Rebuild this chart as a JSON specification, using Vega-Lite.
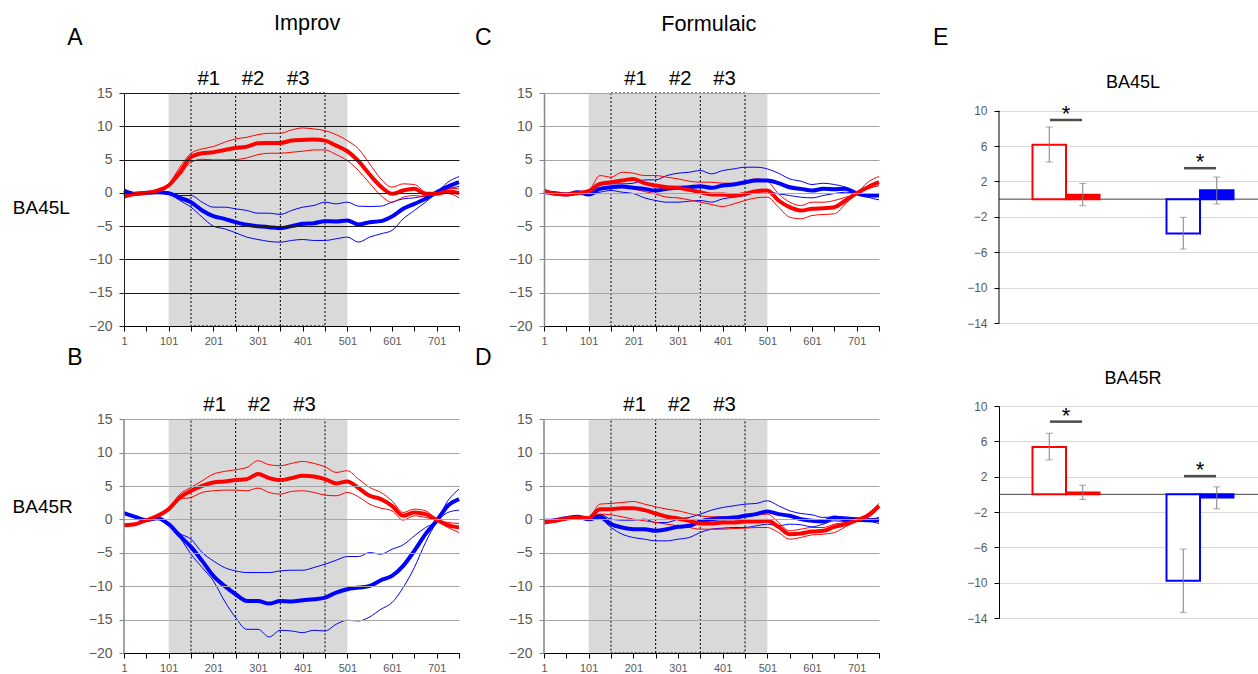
{
"$schema": "https://vega.github.io/schema/vega-lite/v6.json",
"padding": {"left": 12, "top": 13, "right": -8, "bottom": 0},
"background": "white",
"config": {"view": {"stroke": null}, "font": "Liberation Sans", "axis": {"labelFont": "Liberation Sans"}},
"datasets": {
"phase": [{"start": 101, "end": 501, "first": 151, "last": 451}],
"cuts": [{"t": 251}, {"t": 351}],
"labels": [
{"panel": "A", "kind": "letter", "label": "A", "x": -109, "y": 23.3},
{"panel": "A", "kind": "title", "label": "Improv", "x": 411, "y": 25.5},
{"panel": "A", "kind": "phase", "label": "#1", "x": 191, "y": 17.1},
{"panel": "A", "kind": "phase", "label": "#2", "x": 290, "y": 17.1},
{"panel": "A", "kind": "phase", "label": "#3", "x": 391, "y": 17.1},
{"panel": "A", "kind": "row", "label": "BA45L", "x": -184, "y": -2.2},
{"panel": "C", "kind": "letter", "label": "C", "x": -135, "y": 23.3},
{"panel": "C", "kind": "title", "label": "Formulaic", "x": 370, "y": 25.3},
{"panel": "C", "kind": "letter", "label": "E", "x": 889, "y": 23.3},
{"panel": "C", "kind": "phase", "label": "#1", "x": 206, "y": 17.1},
{"panel": "C", "kind": "phase", "label": "#2", "x": 306, "y": 17.1},
{"panel": "C", "kind": "phase", "label": "#3", "x": 405, "y": 17.1},
{"panel": "B", "kind": "letter", "label": "B", "x": -109, "y": 24.2},
{"panel": "B", "kind": "phase", "label": "#1", "x": 204, "y": 17.2},
{"panel": "B", "kind": "phase", "label": "#2", "x": 304, "y": 17.2},
{"panel": "B", "kind": "phase", "label": "#3", "x": 405, "y": 17.2},
{"panel": "B", "kind": "row", "label": "BA45R", "x": -181, "y": 1.8},
{"panel": "D", "kind": "letter", "label": "D", "x": -135, "y": 24.2},
{"panel": "D", "kind": "phase", "label": "#1", "x": 204, "y": 17.2},
{"panel": "D", "kind": "phase", "label": "#2", "x": 304, "y": 17.2},
{"panel": "D", "kind": "phase", "label": "#3", "x": 405, "y": 17.2}
],
"ebars": [
{"region": "BA45L", "group": "red", "cond": "Improv", "value": 6.15, "lo": 4.2, "hi": 8.15},
{"region": "BA45L", "group": "red", "cond": "Formulaic", "value": 0.5, "lo": -0.74, "hi": 1.78},
{"region": "BA45L", "group": "blue", "cond": "Improv", "value": -3.87, "lo": -5.64, "hi": -2.06},
{"region": "BA45L", "group": "blue", "cond": "Formulaic", "value": 1.0, "lo": -0.55, "hi": 2.5},
{"region": "BA45R", "group": "red", "cond": "Improv", "value": 5.37, "lo": 3.9, "hi": 6.92},
{"region": "BA45R", "group": "red", "cond": "Formulaic", "value": 0.2, "lo": -0.58, "hi": 1.04},
{"region": "BA45R", "group": "blue", "cond": "Improv", "value": -9.78, "lo": -13.36, "hi": -6.2},
{"region": "BA45R", "group": "blue", "cond": "Formulaic", "value": -0.36, "lo": -1.64, "hi": 0.85}
],
"esig": [
{"region": "BA45L", "group": "red", "sig": 8.95},
{"region": "BA45L", "group": "blue", "sig": 3.5},
{"region": "BA45R", "group": "red", "sig": 8.23},
{"region": "BA45R", "group": "blue", "sig": 2.06}
],
"lines": [
{"panel":"A","x":1,"rm":-0.55,"ru":-0.4,"rl":-0.7,"bm":0.35,"bu":0.45,"bl":0.25},
{"panel":"A","x":26,"rm":-0.15,"ru":0,"rl":-0.3,"bm":-0.15,"bu":-0.05,"bl":-0.25},
{"panel":"A","x":51,"rm":0,"ru":0.1,"rl":-0.1,"bm":0,"bu":0.1,"bl":-0.1},
{"panel":"A","x":76,"rm":0.35,"ru":0.5,"rl":0.2,"bm":0.1,"bu":0.2,"bl":0},
{"panel":"A","x":101,"rm":1.1,"ru":1.35,"rl":0.95,"bm":-0.05,"bu":0.1,"bl":-0.15},
{"panel":"A","x":126,"rm":3.1,"ru":3.85,"rl":2.6,"bm":-0.75,"bu":-0.4,"bl":-1.15},
{"panel":"A","x":151,"rm":5.35,"ru":5.95,"rl":4.6,"bm":-1.4,"bu":-0.4,"bl":-2.15},
{"panel":"A","x":176,"rm":5.95,"ru":6.6,"rl":5.05,"bm":-2.65,"bu":-1.4,"bl":-3.65},
{"panel":"A","x":201,"rm":6.1,"ru":6.95,"rl":4.95,"bm":-3.5,"bu":-2.15,"bl":-5.0},
{"panel":"A","x":226,"rm":6.45,"ru":7.6,"rl":4.95,"bm":-3.9,"bu":-2.15,"bl":-5.4},
{"panel":"A","x":251,"rm":6.75,"ru":8.1,"rl":5.0,"bm":-4.4,"bu":-2.4,"bl":-6.0},
{"panel":"A","x":276,"rm":6.95,"ru":8.35,"rl":5.25,"bm":-4.8,"bu":-2.65,"bl":-6.65},
{"panel":"A","x":301,"rm":7.45,"ru":8.75,"rl":5.75,"bm":-5.0,"bu":-3.05,"bl":-7.0},
{"panel":"A","x":326,"rm":7.5,"ru":8.95,"rl":5.95,"bm":-5.15,"bu":-3.05,"bl":-7.3},
{"panel":"A","x":351,"rm":7.5,"ru":8.95,"rl":5.95,"bm":-5.3,"bu":-3.25,"bl":-7.4},
{"panel":"A","x":376,"rm":7.85,"ru":9.45,"rl":6.1,"bm":-5.0,"bu":-2.65,"bl":-7.15},
{"panel":"A","x":401,"rm":7.95,"ru":9.75,"rl":6.25,"bm":-4.65,"bu":-2.15,"bl":-7.0},
{"panel":"A","x":426,"rm":8.0,"ru":9.6,"rl":6.45,"bm":-4.55,"bu":-1.9,"bl":-7.15},
{"panel":"A","x":451,"rm":7.85,"ru":9.35,"rl":6.45,"bm":-4.25,"bu":-1.4,"bl":-7.15},
{"panel":"A","x":476,"rm":7.1,"ru":8.75,"rl":5.75,"bm":-4.3,"bu":-1.65,"bl":-6.9},
{"panel":"A","x":501,"rm":6.25,"ru":7.85,"rl":4.85,"bm":-4.15,"bu":-1.4,"bl":-6.65},
{"panel":"A","x":526,"rm":4.75,"ru":6.6,"rl":3.35,"bm":-4.75,"bu":-2.0,"bl":-7.4},
{"panel":"A","x":551,"rm":2.75,"ru":4.35,"rl":1.45,"bm":-4.4,"bu":-2.05,"bl":-6.65},
{"panel":"A","x":576,"rm":0.95,"ru":2.1,"rl":-0.4,"bm":-4.25,"bu":-2.0,"bl":-6.15},
{"panel":"A","x":601,"rm":-0.15,"ru":0.85,"rl":-1.4,"bm":-3.55,"bu":-1.4,"bl":-5.65},
{"panel":"A","x":626,"rm":0.35,"ru":1.35,"rl":-0.65,"bm":-2.4,"bu":-0.9,"bl":-3.9},
{"panel":"A","x":651,"rm":0.6,"ru":1.25,"rl":-0.4,"bm":-1.65,"bu":-0.75,"bl":-2.65},
{"panel":"A","x":676,"rm":-0.15,"ru":0.1,"rl":-0.55,"bm":-0.9,"bu":-0.4,"bl":-1.4},
{"panel":"A","x":701,"rm":-0.15,"ru":-0.15,"rl":-0.15,"bm":0.1,"bu":0.1,"bl":-0.05},
{"panel":"A","x":726,"rm":0.25,"ru":0.7,"rl":-0.1,"bm":0.95,"bu":1.6,"bl":0.6},
{"panel":"A","x":751,"rm":-0.05,"ru":0.6,"rl":-0.75,"bm":1.6,"bu":2.45,"bl":0.95},
{"panel":"C","x":1,"rm":0.35,"ru":0.5,"rl":0.2,"bm":0.1,"bu":0.2,"bl":0},
{"panel":"C","x":26,"rm":-0.15,"ru":0,"rl":-0.3,"bm":-0.05,"bu":0.05,"bl":-0.15},
{"panel":"C","x":51,"rm":-0.25,"ru":-0.1,"rl":-0.4,"bm":-0.25,"bu":-0.15,"bl":-0.35},
{"panel":"C","x":76,"rm":-0.05,"ru":0.1,"rl":-0.2,"bm":0.1,"bu":0.2,"bl":0},
{"panel":"C","x":101,"rm":0.25,"ru":0.35,"rl":0.15,"bm":-0.25,"bu":-0.1,"bl":-0.4},
{"panel":"C","x":126,"rm":1.35,"ru":2.6,"rl":0.6,"bm":0.6,"bu":1.1,"bl":0.1},
{"panel":"C","x":151,"rm":1.6,"ru":2.35,"rl":0.85,"bm":0.85,"bu":1.35,"bl":0.35},
{"panel":"C","x":176,"rm":1.85,"ru":3.1,"rl":0.95,"bm":0.95,"bu":1.35,"bl":0.1},
{"panel":"C","x":201,"rm":2.1,"ru":2.95,"rl":0.6,"bm":0.75,"bu":1.45,"bl":-0.1},
{"panel":"C","x":226,"rm":1.45,"ru":2.6,"rl":0.2,"bm":0.6,"bu":1.95,"bl":-0.75},
{"panel":"C","x":251,"rm":1.1,"ru":2.6,"rl":-0.15,"bm":0.35,"bu":1.95,"bl":-1.15},
{"panel":"C","x":276,"rm":0.85,"ru":2.35,"rl":-0.65,"bm":0.6,"bu":2.6,"bl":-1.4},
{"panel":"C","x":301,"rm":0.75,"ru":2.1,"rl":-0.75,"bm":0.75,"bu":2.95,"bl":-1.4},
{"panel":"C","x":326,"rm":0.45,"ru":1.75,"rl":-1.05,"bm":0.85,"bu":3.1,"bl":-1.25},
{"panel":"C","x":351,"rm":0.1,"ru":1.6,"rl":-1.4,"bm":1.0,"bu":3.35,"bl":-1.15},
{"panel":"C","x":376,"rm":-0.25,"ru":1.6,"rl":-1.75,"bm":0.75,"bu":2.85,"bl":-1.4},
{"panel":"C","x":401,"rm":-0.25,"ru":1.45,"rl":-2.05,"bm":1.1,"bu":3.35,"bl":-0.9},
{"panel":"C","x":426,"rm":-0.4,"ru":1.45,"rl":-1.65,"bm":1.25,"bu":3.6,"bl":-0.65},
{"panel":"C","x":451,"rm":-0.15,"ru":1.75,"rl":-1.15,"bm":1.6,"bu":3.85,"bl":-0.4},
{"panel":"C","x":476,"rm":0.25,"ru":2.1,"rl":-0.75,"bm":1.85,"bu":3.85,"bl":0.1},
{"panel":"C","x":501,"rm":0.35,"ru":1.75,"rl":-0.65,"bm":1.85,"bu":3.6,"bl":0.2},
{"panel":"C","x":526,"rm":-1.15,"ru":-0.15,"rl":-2.15,"bm":1.45,"bu":2.95,"bl":-0.15},
{"panel":"C","x":551,"rm":-2.15,"ru":-1.4,"rl":-3.65,"bm":0.85,"bu":2.1,"bl":-0.4},
{"panel":"C","x":576,"rm":-2.65,"ru":-1.9,"rl":-3.9,"bm":0.6,"bu":1.75,"bl":-0.65},
{"panel":"C","x":601,"rm":-2.4,"ru":-1.4,"rl":-3.4,"bm":0.35,"bu":1.25,"bl":-0.75},
{"panel":"C","x":626,"rm":-2.3,"ru":-1.4,"rl":-3.25,"bm":0.6,"bu":1.45,"bl":-0.4},
{"panel":"C","x":651,"rm":-2.15,"ru":-1.15,"rl":-3.15,"bm":0.55,"bu":1.25,"bl":-0.1},
{"panel":"C","x":676,"rm":-1.15,"ru":-0.65,"rl":-1.65,"bm":0.6,"bu":0.85,"bl":0.1},
{"panel":"C","x":701,"rm":-0.05,"ru":-0.05,"rl":-0.05,"bm":-0.05,"bu":-0.05,"bl":-0.05},
{"panel":"C","x":726,"rm":0.85,"ru":1.6,"rl":0.6,"bm":-0.4,"bu":-0.4,"bl":-0.65},
{"panel":"C","x":751,"rm":1.6,"ru":2.45,"rl":1.1,"bm":-0.4,"bu":-0.15,"bl":-1.05},
{"panel":"B","x":1,"rm":-0.85,"ru":-0.75,"rl":-0.95,"bm":0.95,"bu":1.05,"bl":0.85},
{"panel":"B","x":26,"rm":-0.7,"ru":-0.6,"rl":-0.8,"bm":0.4,"bu":0.5,"bl":0.3},
{"panel":"B","x":51,"rm":-0.1,"ru":0,"rl":-0.2,"bm":-0.1,"bu":0,"bl":-0.2},
{"panel":"B","x":76,"rm":0.55,"ru":0.65,"rl":0.45,"bm":0.2,"bu":0.3,"bl":0.1},
{"panel":"B","x":101,"rm":1.55,"ru":1.7,"rl":1.4,"bm":-0.7,"bu":-0.6,"bl":-0.8},
{"panel":"B","x":126,"rm":3.3,"ru":3.8,"rl":3.05,"bm":-2.45,"bu":-2.1,"bl":-2.7},
{"panel":"B","x":151,"rm":4.3,"ru":4.8,"rl":3.3,"bm":-4.1,"bu":-2.95,"bl":-5.2},
{"panel":"B","x":176,"rm":5.05,"ru":5.8,"rl":4.05,"bm":-6.2,"bu":-4.95,"bl":-7.2},
{"panel":"B","x":201,"rm":5.55,"ru":6.8,"rl":4.3,"bm":-8.45,"bu":-6.2,"bl":-9.2},
{"panel":"B","x":226,"rm":5.7,"ru":7.2,"rl":4.4,"bm":-9.95,"bu":-7.2,"bl":-12.2},
{"panel":"B","x":251,"rm":5.9,"ru":7.45,"rl":4.4,"bm":-11.2,"bu":-7.7,"bl":-14.7},
{"panel":"B","x":276,"rm":6.05,"ru":7.8,"rl":4.3,"bm":-12.2,"bu":-7.95,"bl":-16.45},
{"panel":"B","x":301,"rm":6.8,"ru":8.8,"rl":4.7,"bm":-12.2,"bu":-7.95,"bl":-16.45},
{"panel":"B","x":326,"rm":6.2,"ru":8.2,"rl":4.05,"bm":-12.6,"bu":-7.95,"bl":-17.6},
{"panel":"B","x":351,"rm":5.9,"ru":8.05,"rl":3.8,"bm":-12.2,"bu":-7.7,"bl":-16.6},
{"panel":"B","x":376,"rm":6.2,"ru":8.4,"rl":4.2,"bm":-12.3,"bu":-7.6,"bl":-16.7},
{"panel":"B","x":401,"rm":6.55,"ru":8.7,"rl":4.3,"bm":-12.1,"bu":-7.6,"bl":-16.95},
{"panel":"B","x":426,"rm":6.45,"ru":8.4,"rl":4.05,"bm":-11.95,"bu":-7.2,"bl":-16.6},
{"panel":"B","x":451,"rm":6.05,"ru":7.9,"rl":3.65,"bm":-11.7,"bu":-6.7,"bl":-16.7},
{"panel":"B","x":476,"rm":5.4,"ru":7.05,"rl":3.55,"bm":-10.95,"bu":-6.1,"bl":-15.7},
{"panel":"B","x":501,"rm":5.7,"ru":7.3,"rl":4.05,"bm":-10.45,"bu":-5.55,"bl":-15.1},
{"panel":"B","x":526,"rm":4.7,"ru":6.05,"rl":3.4,"bm":-10.2,"bu":-5.55,"bl":-15.2},
{"panel":"B","x":551,"rm":3.55,"ru":4.8,"rl":2.3,"bm":-9.95,"bu":-4.95,"bl":-14.6},
{"panel":"B","x":576,"rm":3.05,"ru":4.05,"rl":1.7,"bm":-9.1,"bu":-5.2,"bl":-13.45},
{"panel":"B","x":601,"rm":2.05,"ru":2.8,"rl":1.3,"bm":-8.45,"bu":-4.45,"bl":-12.45},
{"panel":"B","x":626,"rm":0.55,"ru":1.05,"rl":-0.1,"bm":-6.95,"bu":-3.8,"bl":-10.2},
{"panel":"B","x":651,"rm":1.05,"ru":1.55,"rl":0.55,"bm":-4.7,"bu":-2.45,"bl":-7.2},
{"panel":"B","x":676,"rm":0.8,"ru":1.3,"rl":0.3,"bm":-2.2,"bu":-1.2,"bl":-3.45},
{"panel":"B","x":701,"rm":-0.05,"ru":0.05,"rl":-0.2,"bm":-0.2,"bu":-0.2,"bl":-0.45},
{"panel":"B","x":726,"rm":-0.85,"ru":-0.45,"rl":-1.2,"bm":2.05,"bu":2.8,"bl":1.05},
{"panel":"B","x":751,"rm":-1.2,"ru":-0.6,"rl":-1.95,"bm":3.05,"bu":4.55,"bl":1.4},
{"panel":"D","x":1,"rm":-0.45,"ru":-0.35,"rl":-0.55,"bm":-0.2,"bu":-0.1,"bl":-0.3},
{"panel":"D","x":26,"rm":-0.2,"ru":-0.1,"rl":-0.3,"bm":-0.1,"bu":0,"bl":-0.2},
{"panel":"D","x":51,"rm":0.15,"ru":0.25,"rl":0.05,"bm":0.2,"bu":0.3,"bl":0.1},
{"panel":"D","x":76,"rm":0.3,"ru":0.4,"rl":0.2,"bm":0.4,"bu":0.5,"bl":0.3},
{"panel":"D","x":101,"rm":0.2,"ru":0.3,"rl":0.1,"bm":0.05,"bu":0.15,"bl":-0.05},
{"panel":"D","x":126,"rm":1.55,"ru":2.3,"rl":0.8,"bm":0.4,"bu":0.8,"bl":0.05},
{"panel":"D","x":151,"rm":1.55,"ru":2.4,"rl":0.7,"bm":-0.7,"bu":0.05,"bl":-1.2},
{"panel":"D","x":176,"rm":1.7,"ru":2.55,"rl":0.4,"bm":-1.2,"bu":-0.1,"bl":-2.2},
{"panel":"D","x":201,"rm":1.7,"ru":2.7,"rl":0.05,"bm":-1.45,"bu":-0.1,"bl":-2.7},
{"panel":"D","x":226,"rm":1.4,"ru":2.3,"rl":-0.2,"bm":-1.45,"bu":0.05,"bl":-2.95},
{"panel":"D","x":251,"rm":0.9,"ru":1.9,"rl":-0.45,"bm":-1.7,"bu":-0.45,"bl":-3.2},
{"panel":"D","x":276,"rm":0.4,"ru":1.55,"rl":-0.7,"bm":-1.45,"bu":-0.45,"bl":-3.2},
{"panel":"D","x":301,"rm":0.15,"ru":1.3,"rl":-0.95,"bm":-1.1,"bu":0.05,"bl":-2.95},
{"panel":"D","x":326,"rm":-0.2,"ru":0.9,"rl":-1.2,"bm":-0.95,"bu":0.3,"bl":-2.7},
{"panel":"D","x":351,"rm":-0.6,"ru":0.55,"rl":-1.45,"bm":-0.3,"bu":0.8,"bl":-1.95},
{"panel":"D","x":376,"rm":-0.6,"ru":0.4,"rl":-1.45,"bm":0.05,"bu":1.4,"bl":-1.45},
{"panel":"D","x":401,"rm":-0.45,"ru":0.4,"rl":-1.45,"bm":0.2,"bu":1.8,"bl":-1.3},
{"panel":"D","x":426,"rm":-0.45,"ru":0.4,"rl":-1.35,"bm":0.3,"bu":2.05,"bl":-1.2},
{"panel":"D","x":451,"rm":-0.3,"ru":0.55,"rl":-1.3,"bm":0.55,"bu":2.3,"bl":-1.2},
{"panel":"D","x":476,"rm":-0.3,"ru":0.7,"rl":-1.2,"bm":0.8,"bu":2.4,"bl":-0.95},
{"panel":"D","x":501,"rm":-0.2,"ru":0.8,"rl":-1.2,"bm":1.2,"bu":2.8,"bl":-0.7},
{"panel":"D","x":526,"rm":-1.1,"ru":-0.45,"rl":-1.95,"bm":0.8,"bu":2.05,"bl":-0.95},
{"panel":"D","x":551,"rm":-2.2,"ru":-1.7,"rl":-2.95,"bm":0.55,"bu":1.3,"bl":-0.7},
{"panel":"D","x":576,"rm":-2.1,"ru":-1.45,"rl":-2.7,"bm":0.05,"bu":0.9,"bl":-0.8},
{"panel":"D","x":601,"rm":-1.8,"ru":-1.2,"rl":-2.3,"bm":-0.2,"bu":0.7,"bl":-1.1},
{"panel":"D","x":626,"rm":-1.7,"ru":-1.2,"rl":-2.2,"bm":-0.3,"bu":0.3,"bl":-0.7},
{"panel":"D","x":651,"rm":-1.1,"ru":-0.7,"rl":-1.95,"bm":0.3,"bu":0.4,"bl":-0.2},
{"panel":"D","x":676,"rm":-0.7,"ru":-0.45,"rl":-1.1,"bm":0.05,"bu":0.4,"bl":-0.3},
{"panel":"D","x":701,"rm":-0.1,"ru":0.05,"rl":-0.25,"bm":0.05,"bu":0.2,"bl":-0.3},
{"panel":"D","x":726,"rm":0.55,"ru":0.9,"rl":0.3,"bm":-0.1,"bu":0.05,"bl":-0.3},
{"panel":"D","x":751,"rm":2.05,"ru":2.4,"rl":1.7,"bm":-0.1,"bu":0.3,"bl":-0.6}
]
},
"columns": 3,
"spacing": {"row": 80, "column": 85},
"bounds": "flush",
"align": "each",
"concat": [
{"width": 335, "height": 233, "layer": [
{"data": {"name": "phase"}, "mark": {"type": "rect", "color": "#d9d9d9"}, "encoding": {"x": {"field": "start", "type": "quantitative", "scale": {"domain": [1, 751], "nice": false, "zero": false}}, "x2": {"field": "end"}, "y": {"datum": -20, "type": "quantitative", "scale": {"domain": [-20, 15], "nice": false, "zero": false}}, "y2": {"datum": 15}}},
{"data": {"name": "phase"}, "mark": {"type": "rect", "filled": false, "color": "#000000", "strokeWidth": 1, "strokeDash": [2, 2]}, "encoding": {"x": {"field": "first", "type": "quantitative", "scale": {"domain": [1, 751], "nice": false, "zero": false}}, "x2": {"field": "last"}, "y": {"datum": -20, "type": "quantitative", "scale": {"domain": [-20, 15], "nice": false, "zero": false}}, "y2": {"datum": 15}}},
{"data": {"name": "cuts"}, "mark": {"type": "rule", "color": "#000000", "strokeWidth": 1, "strokeDash": [2, 2]}, "encoding": {"x": {"field": "t", "type": "quantitative", "scale": {"domain": [1, 751], "nice": false, "zero": false}}, "y": {"datum": -20, "type": "quantitative", "scale": {"domain": [-20, 15], "nice": false, "zero": false}}, "y2": {"datum": 15}}},
{"data": {"name": "lines"}, "transform": [{"filter": "datum.panel === 'A'"}, {"fold": ["bu", "bl", "bm", "ru", "rl", "rm"], "as": ["key", "value"]}, {"filter": "datum.key !== 'bm' && datum.key !== 'rm'"}], "mark": {"type": "line", "interpolate": "monotone", "strokeWidth": 1},
 "encoding": {
  "x": {"field": "x", "type": "quantitative", "scale": {"domain": [1, 751], "nice": false, "zero": false}, "axis": {"values": [1,51,101,151,201,251,301,351,401,451,501,551,601,651,701,751], "tickCount": 40, "labelExpr": "(datum.value - 1) % 100 === 0 ? datum.label : ''", "format": "d", "grid": false, "title": null, "domainColor": "#000000", "tickColor": "#000000", "tickSize": 5, "labelFontSize": 11, "labelColor": "#595959", "labelPadding": 4, "labelFlush": false, "labelOverlap": false, "zindex": 1}},
  "y": {"field": "value", "type": "quantitative", "scale": {"domain": [-20, 15], "nice": false, "zero": false}, "axis": {"values": [-20,-15,-10,-5,0,5,10,15], "tickCount": 40, "format": "d", "title": null, "grid": true, "gridColor": "#1a1a1a", "gridWidth": 1, "domainColor": "#1a1a1a", "tickColor": "#1a1a1a", "tickSize": 5, "labelFontSize": 14, "labelColor": "#595959", "labelPadding": 7, "labelFlush": false, "labelOverlap": false, "zindex": 1}},
  "color": {"field": "key", "type": "nominal", "scale": {"domain": ["bu", "bl", "bm", "ru", "rl", "rm"], "range": ["#0000ff", "#0000ff", "#0000ff", "#ff0000", "#ff0000", "#ff0000"]}, "legend": null}
 }},
{"data": {"name": "lines"}, "transform": [{"filter": "datum.panel === 'A'"}, {"fold": ["bm", "rm"], "as": ["key", "value"]}], "mark": {"type": "line", "interpolate": "monotone", "strokeWidth": 4},
 "encoding": {
  "x": {"field": "x", "type": "quantitative", "scale": {"domain": [1, 751], "nice": false, "zero": false}, "axis": {"values": [1,51,101,151,201,251,301,351,401,451,501,551,601,651,701,751], "tickCount": 40, "labelExpr": "(datum.value - 1) % 100 === 0 ? datum.label : ''", "format": "d", "grid": false, "title": null, "domainColor": "#000000", "tickColor": "#000000", "tickSize": 5, "labelFontSize": 11, "labelColor": "#595959", "labelPadding": 4, "labelFlush": false, "labelOverlap": false, "zindex": 1}},
  "y": {"field": "value", "type": "quantitative", "scale": {"domain": [-20, 15], "nice": false, "zero": false}, "axis": {"values": [-20,-15,-10,-5,0,5,10,15], "tickCount": 40, "format": "d", "title": null, "grid": true, "gridColor": "#1a1a1a", "gridWidth": 1, "domainColor": "#1a1a1a", "tickColor": "#1a1a1a", "tickSize": 5, "labelFontSize": 14, "labelColor": "#595959", "labelPadding": 7, "labelFlush": false, "labelOverlap": false, "zindex": 1}},
  "color": {"field": "key", "type": "nominal", "scale": {"domain": ["bu", "bl", "bm", "ru", "rl", "rm"], "range": ["#0000ff", "#0000ff", "#0000ff", "#ff0000", "#ff0000", "#ff0000"]}, "legend": null}
 }},
{"data": {"name": "labels"}, "transform": [{"filter": "datum.panel === 'A'"}], "mark": {"type": "text", "font": "Liberation Sans", "align": "center", "baseline": "middle", "color": "#000000"},
 "encoding": {
  "x": {"field": "x", "type": "quantitative", "scale": {"domain": [1, 751], "nice": false, "zero": false}},
  "y": {"field": "y", "type": "quantitative", "scale": {"domain": [-20, 15], "nice": false, "zero": false}},
  "text": {"field": "label"},
  "size": {"field": "kind", "type": "nominal", "scale": {"domain": ["letter", "title", "phase", "row"], "range": [23, 19, 18, 19]}, "legend": null}
 }}
]},
{"width": 335, "height": 233, "layer": [
{"data": {"name": "phase"}, "mark": {"type": "rect", "color": "#d9d9d9"}, "encoding": {"x": {"field": "start", "type": "quantitative", "scale": {"domain": [1, 751], "nice": false, "zero": false}}, "x2": {"field": "end"}, "y": {"datum": -20, "type": "quantitative", "scale": {"domain": [-20, 15], "nice": false, "zero": false}}, "y2": {"datum": 15}}},
{"data": {"name": "phase"}, "mark": {"type": "rect", "filled": false, "color": "#000000", "strokeWidth": 1, "strokeDash": [2, 2]}, "encoding": {"x": {"field": "first", "type": "quantitative", "scale": {"domain": [1, 751], "nice": false, "zero": false}}, "x2": {"field": "last"}, "y": {"datum": -20, "type": "quantitative", "scale": {"domain": [-20, 15], "nice": false, "zero": false}}, "y2": {"datum": 15}}},
{"data": {"name": "cuts"}, "mark": {"type": "rule", "color": "#000000", "strokeWidth": 1, "strokeDash": [2, 2]}, "encoding": {"x": {"field": "t", "type": "quantitative", "scale": {"domain": [1, 751], "nice": false, "zero": false}}, "y": {"datum": -20, "type": "quantitative", "scale": {"domain": [-20, 15], "nice": false, "zero": false}}, "y2": {"datum": 15}}},
{"data": {"name": "lines"}, "transform": [{"filter": "datum.panel === 'C'"}, {"fold": ["bu", "bl", "bm", "ru", "rl", "rm"], "as": ["key", "value"]}, {"filter": "datum.key !== 'bm' && datum.key !== 'rm'"}], "mark": {"type": "line", "interpolate": "monotone", "strokeWidth": 1},
 "encoding": {
  "x": {"field": "x", "type": "quantitative", "scale": {"domain": [1, 751], "nice": false, "zero": false}, "axis": {"values": [1,51,101,151,201,251,301,351,401,451,501,551,601,651,701,751], "tickCount": 40, "labelExpr": "(datum.value - 1) % 100 === 0 ? datum.label : ''", "format": "d", "grid": false, "title": null, "domainColor": "#000000", "tickColor": "#000000", "tickSize": 5, "labelFontSize": 11, "labelColor": "#595959", "labelPadding": 4, "labelFlush": false, "labelOverlap": false, "zindex": 1}},
  "y": {"field": "value", "type": "quantitative", "scale": {"domain": [-20, 15], "nice": false, "zero": false}, "axis": {"values": [-20,-15,-10,-5,0,5,10,15], "tickCount": 40, "format": "d", "title": null, "grid": true, "gridColor": "#a6a6a6", "gridWidth": 1, "domainColor": "#868686", "domainWidth": 1.5, "tickColor": "#868686", "tickSize": 5, "labelFontSize": 14, "labelColor": "#595959", "labelPadding": 7, "labelFlush": false, "labelOverlap": false, "zindex": 1}},
  "color": {"field": "key", "type": "nominal", "scale": {"domain": ["bu", "bl", "bm", "ru", "rl", "rm"], "range": ["#0000ff", "#0000ff", "#0000ff", "#ff0000", "#ff0000", "#ff0000"]}, "legend": null}
 }},
{"data": {"name": "lines"}, "transform": [{"filter": "datum.panel === 'C'"}, {"fold": ["bm", "rm"], "as": ["key", "value"]}], "mark": {"type": "line", "interpolate": "monotone", "strokeWidth": 4},
 "encoding": {
  "x": {"field": "x", "type": "quantitative", "scale": {"domain": [1, 751], "nice": false, "zero": false}, "axis": {"values": [1,51,101,151,201,251,301,351,401,451,501,551,601,651,701,751], "tickCount": 40, "labelExpr": "(datum.value - 1) % 100 === 0 ? datum.label : ''", "format": "d", "grid": false, "title": null, "domainColor": "#000000", "tickColor": "#000000", "tickSize": 5, "labelFontSize": 11, "labelColor": "#595959", "labelPadding": 4, "labelFlush": false, "labelOverlap": false, "zindex": 1}},
  "y": {"field": "value", "type": "quantitative", "scale": {"domain": [-20, 15], "nice": false, "zero": false}, "axis": {"values": [-20,-15,-10,-5,0,5,10,15], "tickCount": 40, "format": "d", "title": null, "grid": true, "gridColor": "#a6a6a6", "gridWidth": 1, "domainColor": "#868686", "domainWidth": 1.5, "tickColor": "#868686", "tickSize": 5, "labelFontSize": 14, "labelColor": "#595959", "labelPadding": 7, "labelFlush": false, "labelOverlap": false, "zindex": 1}},
  "color": {"field": "key", "type": "nominal", "scale": {"domain": ["bu", "bl", "bm", "ru", "rl", "rm"], "range": ["#0000ff", "#0000ff", "#0000ff", "#ff0000", "#ff0000", "#ff0000"]}, "legend": null}
 }},
{"data": {"name": "labels"}, "transform": [{"filter": "datum.panel === 'C'"}], "mark": {"type": "text", "font": "Liberation Sans", "align": "center", "baseline": "middle", "color": "#000000"},
 "encoding": {
  "x": {"field": "x", "type": "quantitative", "scale": {"domain": [1, 751], "nice": false, "zero": false}},
  "y": {"field": "y", "type": "quantitative", "scale": {"domain": [-20, 15], "nice": false, "zero": false}},
  "text": {"field": "label"},
  "size": {"field": "kind", "type": "nominal", "scale": {"domain": ["letter", "title", "phase", "row"], "range": [23, 19, 18, 19]}, "legend": null}
 }}
]},
{"width": 303, "height": 230,
 "layer": [
 {"data": {"name": "phase"}, "mark": {"type": "rule", "color": "#404040", "strokeWidth": 1}, "encoding": {
   "x": {"datum": "red", "type": "nominal", "bandPosition": 0, "scale": {"domain": ["red", "blue"], "range": [35, 303], "paddingInner": 0, "paddingOuter": 0}, "axis": null},
   "x2": {"datum": "blue", "bandPosition": 1},
   "y": {"datum": 0, "type": "quantitative", "scale": {"domain": [-14, 12], "nice": false}, "axis": {"values": [-14,-10,-6,-2,2,6,10], "tickCount": 40, "format": "d", "title": null, "grid": true, "gridColor": "#d9d9d9", "domain": false, "offset": -35, "tickColor": "#000000", "tickSize": 5, "labelFontSize": 12, "labelColor": "#595959", "labelPadding": 7, "labelFlush": false, "labelOverlap": false}}}},
 {"data": {"name": "phase"}, "mark": {"type": "rule", "color": "#000000", "strokeWidth": 1}, "encoding": {
   "x": {"datum": "red", "type": "nominal", "bandPosition": 0, "scale": {"domain": ["red", "blue"], "range": [35, 303], "paddingInner": 0, "paddingOuter": 0}, "axis": null},
   "y": {"datum": -14, "type": "quantitative", "scale": {"domain": [-14, 12], "nice": false}},
   "y2": {"datum": 10}}},
 {"data": {"name": "ebars"}, "transform": [{"filter": "datum.region === 'BA45L'"}], "mark": {"type": "bar", "strokeWidth": 2},
  "encoding": {
   "x": {"field": "group", "type": "nominal", "scale": {"domain": ["red", "blue"], "range": [35, 303], "paddingInner": 0, "paddingOuter": 0}, "axis": null},
   "xOffset": {"field": "cond", "type": "nominal", "scale": {"domain": ["Improv", "Formulaic"], "paddingInner": 0, "paddingOuter": 1.11}},
   "y": {"field": "value", "type": "quantitative", "scale": {"domain": [-14, 12], "nice": false}},
   "stroke": {"field": "group", "type": "nominal", "scale": {"domain": ["red", "blue"], "range": ["#ff0000", "#0000ff"]}, "legend": null},
   "fill": {"condition": {"test": "datum.cond === 'Improv'", "value": "#ffffff"}, "field": "group", "type": "nominal", "scale": {"domain": ["red", "blue"], "range": ["#ff0000", "#0000ff"]}, "legend": null}
  }},
 {"data": {"name": "ebars"}, "transform": [{"filter": "datum.region === 'BA45L'"}], "mark": {"type": "rule", "color": "#7f7f7f", "strokeWidth": 1},
  "encoding": {
   "x": {"field": "group", "type": "nominal", "scale": {"domain": ["red", "blue"], "range": [35, 303], "paddingInner": 0, "paddingOuter": 0}, "axis": null},
   "xOffset": {"field": "cond", "type": "nominal", "scale": {"domain": ["Improv", "Formulaic"], "paddingInner": 0, "paddingOuter": 1.11}},
   "y": {"field": "lo", "type": "quantitative", "scale": {"domain": [-14, 12], "nice": false}},
   "y2": {"field": "hi"}
  }},
 {"data": {"name": "ebars"}, "transform": [{"filter": "datum.region === 'BA45L'"}], "mark": {"type": "tick", "color": "#7f7f7f", "size": 7, "thickness": 1},
  "encoding": {
   "x": {"field": "group", "type": "nominal", "scale": {"domain": ["red", "blue"], "range": [35, 303], "paddingInner": 0, "paddingOuter": 0}, "axis": null},
   "xOffset": {"field": "cond", "type": "nominal", "scale": {"domain": ["Improv", "Formulaic"], "paddingInner": 0, "paddingOuter": 1.11}},
   "y": {"field": "lo", "type": "quantitative", "scale": {"domain": [-14, 12], "nice": false}}
  }},
 {"data": {"name": "ebars"}, "transform": [{"filter": "datum.region === 'BA45L'"}], "mark": {"type": "tick", "color": "#7f7f7f", "size": 7, "thickness": 1},
  "encoding": {
   "x": {"field": "group", "type": "nominal", "scale": {"domain": ["red", "blue"], "range": [35, 303], "paddingInner": 0, "paddingOuter": 0}, "axis": null},
   "xOffset": {"field": "cond", "type": "nominal", "scale": {"domain": ["Improv", "Formulaic"], "paddingInner": 0, "paddingOuter": 1.11}},
   "y": {"field": "hi", "type": "quantitative", "scale": {"domain": [-14, 12], "nice": false}}
  }},
 {"data": {"name": "esig"}, "transform": [{"filter": "datum.region === 'BA45L'"}], "mark": {"type": "tick", "color": "#000000", "size": 32, "thickness": 2.5},
  "encoding": {
   "x": {"field": "group", "type": "nominal", "scale": {"domain": ["red", "blue"], "range": [35, 303], "paddingInner": 0, "paddingOuter": 0}, "axis": null},
   "y": {"field": "sig", "type": "quantitative", "scale": {"domain": [-14, 12], "nice": false}}
  }},
 {"data": {"name": "esig"}, "transform": [{"filter": "datum.region === 'BA45L'"}], "mark": {"type": "text", "text": "*", "fontSize": 22, "font": "Liberation Sans", "baseline": "alphabetic", "dy": 1, "color": "#000000"},
  "encoding": {
   "x": {"field": "group", "type": "nominal", "scale": {"domain": ["red", "blue"], "range": [35, 303], "paddingInner": 0, "paddingOuter": 0}, "axis": null},
   "y": {"field": "sig", "type": "quantitative", "scale": {"domain": [-14, 12], "nice": false}}
  }},
 {"data": {"name": "esig"}, "transform": [{"filter": "datum.region === 'BA45L' && datum.group === 'red'"}], "mark": {"type": "text", "fontSize": 18, "font": "Liberation Sans", "baseline": "middle", "align": "center", "color": "#000000"},
  "encoding": {
   "x": {"datum": "blue", "type": "nominal", "bandPosition": 0, "scale": {"domain": ["red", "blue"], "range": [35, 303], "paddingInner": 0, "paddingOuter": 0}, "axis": null},
   "y": {"datum": 13.1, "type": "quantitative", "scale": {"domain": [-14, 12], "nice": false}},
   "text": {"field": "region"}
  }}
 ]},
{"width": 335, "height": 247, "layer": [
{"data": {"name": "phase"}, "mark": {"type": "rect", "color": "#d9d9d9"}, "encoding": {"x": {"field": "start", "type": "quantitative", "scale": {"domain": [1, 751], "nice": false, "zero": false}}, "x2": {"field": "end"}, "y": {"datum": -20, "type": "quantitative", "scale": {"domain": [-20, 17], "nice": false, "zero": false}}, "y2": {"datum": 15}}},
{"data": {"name": "phase"}, "mark": {"type": "rect", "filled": false, "color": "#000000", "strokeWidth": 1, "strokeDash": [2, 2]}, "encoding": {"x": {"field": "first", "type": "quantitative", "scale": {"domain": [1, 751], "nice": false, "zero": false}}, "x2": {"field": "last"}, "y": {"datum": -20, "type": "quantitative", "scale": {"domain": [-20, 17], "nice": false, "zero": false}}, "y2": {"datum": 15}}},
{"data": {"name": "cuts"}, "mark": {"type": "rule", "color": "#000000", "strokeWidth": 1, "strokeDash": [2, 2]}, "encoding": {"x": {"field": "t", "type": "quantitative", "scale": {"domain": [1, 751], "nice": false, "zero": false}}, "y": {"datum": -20, "type": "quantitative", "scale": {"domain": [-20, 17], "nice": false, "zero": false}}, "y2": {"datum": 15}}},
{"data": {"name": "lines"}, "transform": [{"filter": "datum.panel === 'B'"}, {"fold": ["bu", "bl", "bm", "ru", "rl", "rm"], "as": ["key", "value"]}, {"filter": "datum.key !== 'bm' && datum.key !== 'rm'"}], "mark": {"type": "line", "interpolate": "monotone", "strokeWidth": 1},
 "encoding": {
  "x": {"field": "x", "type": "quantitative", "scale": {"domain": [1, 751], "nice": false, "zero": false}, "axis": {"values": [1,51,101,151,201,251,301,351,401,451,501,551,601,651,701,751], "tickCount": 40, "labelExpr": "(datum.value - 1) % 100 === 0 ? datum.label : ''", "format": "d", "grid": false, "title": null, "domainColor": "#000000", "tickColor": "#000000", "tickSize": 5, "labelFontSize": 11, "labelColor": "#595959", "labelPadding": 4, "labelFlush": false, "labelOverlap": false, "zindex": 1}},
  "y": {"field": "value", "type": "quantitative", "scale": {"domain": [-20, 17], "nice": false, "zero": false}, "axis": {"values": [-20,-15,-10,-5,0,5,10,15], "tickCount": 40, "format": "d", "title": null, "grid": true, "gridColor": "#a6a6a6", "gridWidth": 1, "domain": false, "tickColor": "#868686", "tickSize": 5, "labelFontSize": 14, "labelColor": "#595959", "labelPadding": 7, "labelFlush": false, "labelOverlap": false, "zindex": 1}},
  "color": {"field": "key", "type": "nominal", "scale": {"domain": ["bu", "bl", "bm", "ru", "rl", "rm"], "range": ["#0000ff", "#0000ff", "#0000ff", "#ff0000", "#ff0000", "#ff0000"]}, "legend": null}
 }},
{"data": {"name": "lines"}, "transform": [{"filter": "datum.panel === 'B'"}, {"fold": ["bm", "rm"], "as": ["key", "value"]}], "mark": {"type": "line", "interpolate": "monotone", "strokeWidth": 4},
 "encoding": {
  "x": {"field": "x", "type": "quantitative", "scale": {"domain": [1, 751], "nice": false, "zero": false}, "axis": {"values": [1,51,101,151,201,251,301,351,401,451,501,551,601,651,701,751], "tickCount": 40, "labelExpr": "(datum.value - 1) % 100 === 0 ? datum.label : ''", "format": "d", "grid": false, "title": null, "domainColor": "#000000", "tickColor": "#000000", "tickSize": 5, "labelFontSize": 11, "labelColor": "#595959", "labelPadding": 4, "labelFlush": false, "labelOverlap": false, "zindex": 1}},
  "y": {"field": "value", "type": "quantitative", "scale": {"domain": [-20, 17], "nice": false, "zero": false}, "axis": {"values": [-20,-15,-10,-5,0,5,10,15], "tickCount": 40, "format": "d", "title": null, "grid": true, "gridColor": "#a6a6a6", "gridWidth": 1, "domain": false, "tickColor": "#868686", "tickSize": 5, "labelFontSize": 14, "labelColor": "#595959", "labelPadding": 7, "labelFlush": false, "labelOverlap": false, "zindex": 1}},
  "color": {"field": "key", "type": "nominal", "scale": {"domain": ["bu", "bl", "bm", "ru", "rl", "rm"], "range": ["#0000ff", "#0000ff", "#0000ff", "#ff0000", "#ff0000", "#ff0000"]}, "legend": null}
 }},
{"data": {"name": "phase"}, "mark": {"type": "rule", "color": "#868686", "strokeWidth": 1.5}, "encoding": {"x": {"datum": 1, "type": "quantitative", "scale": {"domain": [1, 751], "nice": false, "zero": false}}, "y": {"datum": -20, "type": "quantitative", "scale": {"domain": [-20, 17], "nice": false, "zero": false}}, "y2": {"datum": 15}}},
{"data": {"name": "labels"}, "transform": [{"filter": "datum.panel === 'B'"}], "mark": {"type": "text", "font": "Liberation Sans", "align": "center", "baseline": "middle", "color": "#000000"},
 "encoding": {
  "x": {"field": "x", "type": "quantitative", "scale": {"domain": [1, 751], "nice": false, "zero": false}},
  "y": {"field": "y", "type": "quantitative", "scale": {"domain": [-20, 17], "nice": false, "zero": false}},
  "text": {"field": "label"},
  "size": {"field": "kind", "type": "nominal", "scale": {"domain": ["letter", "title", "phase", "row"], "range": [23, 19, 18, 19]}, "legend": null}
 }}
]},
{"width": 335, "height": 247, "layer": [
{"data": {"name": "phase"}, "mark": {"type": "rect", "color": "#d9d9d9"}, "encoding": {"x": {"field": "start", "type": "quantitative", "scale": {"domain": [1, 751], "nice": false, "zero": false}}, "x2": {"field": "end"}, "y": {"datum": -20, "type": "quantitative", "scale": {"domain": [-20, 17], "nice": false, "zero": false}}, "y2": {"datum": 15}}},
{"data": {"name": "phase"}, "mark": {"type": "rect", "filled": false, "color": "#000000", "strokeWidth": 1, "strokeDash": [2, 2]}, "encoding": {"x": {"field": "first", "type": "quantitative", "scale": {"domain": [1, 751], "nice": false, "zero": false}}, "x2": {"field": "last"}, "y": {"datum": -20, "type": "quantitative", "scale": {"domain": [-20, 17], "nice": false, "zero": false}}, "y2": {"datum": 15}}},
{"data": {"name": "cuts"}, "mark": {"type": "rule", "color": "#000000", "strokeWidth": 1, "strokeDash": [2, 2]}, "encoding": {"x": {"field": "t", "type": "quantitative", "scale": {"domain": [1, 751], "nice": false, "zero": false}}, "y": {"datum": -20, "type": "quantitative", "scale": {"domain": [-20, 17], "nice": false, "zero": false}}, "y2": {"datum": 15}}},
{"data": {"name": "lines"}, "transform": [{"filter": "datum.panel === 'D'"}, {"fold": ["bu", "bl", "bm", "ru", "rl", "rm"], "as": ["key", "value"]}, {"filter": "datum.key !== 'bm' && datum.key !== 'rm'"}], "mark": {"type": "line", "interpolate": "monotone", "strokeWidth": 1},
 "encoding": {
  "x": {"field": "x", "type": "quantitative", "scale": {"domain": [1, 751], "nice": false, "zero": false}, "axis": {"values": [1,51,101,151,201,251,301,351,401,451,501,551,601,651,701,751], "tickCount": 40, "labelExpr": "(datum.value - 1) % 100 === 0 ? datum.label : ''", "format": "d", "grid": false, "title": null, "domainColor": "#000000", "tickColor": "#000000", "tickSize": 5, "labelFontSize": 11, "labelColor": "#595959", "labelPadding": 4, "labelFlush": false, "labelOverlap": false, "zindex": 1}},
  "y": {"field": "value", "type": "quantitative", "scale": {"domain": [-20, 17], "nice": false, "zero": false}, "axis": {"values": [-20,-15,-10,-5,0,5,10,15], "tickCount": 40, "format": "d", "title": null, "grid": true, "gridColor": "#a6a6a6", "gridWidth": 1, "domain": false, "tickColor": "#868686", "tickSize": 5, "labelFontSize": 14, "labelColor": "#595959", "labelPadding": 7, "labelFlush": false, "labelOverlap": false, "zindex": 1}},
  "color": {"field": "key", "type": "nominal", "scale": {"domain": ["bu", "bl", "bm", "ru", "rl", "rm"], "range": ["#0000ff", "#0000ff", "#0000ff", "#ff0000", "#ff0000", "#ff0000"]}, "legend": null}
 }},
{"data": {"name": "lines"}, "transform": [{"filter": "datum.panel === 'D'"}, {"fold": ["bm", "rm"], "as": ["key", "value"]}], "mark": {"type": "line", "interpolate": "monotone", "strokeWidth": 4},
 "encoding": {
  "x": {"field": "x", "type": "quantitative", "scale": {"domain": [1, 751], "nice": false, "zero": false}, "axis": {"values": [1,51,101,151,201,251,301,351,401,451,501,551,601,651,701,751], "tickCount": 40, "labelExpr": "(datum.value - 1) % 100 === 0 ? datum.label : ''", "format": "d", "grid": false, "title": null, "domainColor": "#000000", "tickColor": "#000000", "tickSize": 5, "labelFontSize": 11, "labelColor": "#595959", "labelPadding": 4, "labelFlush": false, "labelOverlap": false, "zindex": 1}},
  "y": {"field": "value", "type": "quantitative", "scale": {"domain": [-20, 17], "nice": false, "zero": false}, "axis": {"values": [-20,-15,-10,-5,0,5,10,15], "tickCount": 40, "format": "d", "title": null, "grid": true, "gridColor": "#a6a6a6", "gridWidth": 1, "domain": false, "tickColor": "#868686", "tickSize": 5, "labelFontSize": 14, "labelColor": "#595959", "labelPadding": 7, "labelFlush": false, "labelOverlap": false, "zindex": 1}},
  "color": {"field": "key", "type": "nominal", "scale": {"domain": ["bu", "bl", "bm", "ru", "rl", "rm"], "range": ["#0000ff", "#0000ff", "#0000ff", "#ff0000", "#ff0000", "#ff0000"]}, "legend": null}
 }},
{"data": {"name": "phase"}, "mark": {"type": "rule", "color": "#868686", "strokeWidth": 1.5}, "encoding": {"x": {"datum": 1, "type": "quantitative", "scale": {"domain": [1, 751], "nice": false, "zero": false}}, "y": {"datum": -20, "type": "quantitative", "scale": {"domain": [-20, 17], "nice": false, "zero": false}}, "y2": {"datum": 15}}},
{"data": {"name": "labels"}, "transform": [{"filter": "datum.panel === 'D'"}], "mark": {"type": "text", "font": "Liberation Sans", "align": "center", "baseline": "middle", "color": "#000000"},
 "encoding": {
  "x": {"field": "x", "type": "quantitative", "scale": {"domain": [1, 751], "nice": false, "zero": false}},
  "y": {"field": "y", "type": "quantitative", "scale": {"domain": [-20, 17], "nice": false, "zero": false}},
  "text": {"field": "label"},
  "size": {"field": "kind", "type": "nominal", "scale": {"domain": ["letter", "title", "phase", "row"], "range": [23, 19, 18, 19]}, "legend": null}
 }}
]},
{"width": 303, "height": 212,
 "layer": [
 {"data": {"name": "phase"}, "mark": {"type": "rule", "color": "#404040", "strokeWidth": 1}, "encoding": {
   "x": {"datum": "red", "type": "nominal", "bandPosition": 0, "scale": {"domain": ["red", "blue"], "range": [35, 303], "paddingInner": 0, "paddingOuter": 0}, "axis": null},
   "x2": {"datum": "blue", "bandPosition": 1},
   "y": {"datum": 0, "type": "quantitative", "scale": {"domain": [-14, 10], "nice": false}, "axis": {"values": [-14,-10,-6,-2,2,6,10], "tickCount": 40, "format": "d", "title": null, "grid": true, "gridColor": "#d9d9d9", "domain": true, "domainColor": "#000000", "offset": -35, "tickColor": "#000000", "tickSize": 5, "labelFontSize": 12, "labelColor": "#595959", "labelPadding": 7, "labelFlush": false, "labelOverlap": false}}}},
 {"data": {"name": "ebars"}, "transform": [{"filter": "datum.region === 'BA45R'"}], "mark": {"type": "bar", "strokeWidth": 2},
  "encoding": {
   "x": {"field": "group", "type": "nominal", "scale": {"domain": ["red", "blue"], "range": [35, 303], "paddingInner": 0, "paddingOuter": 0}, "axis": null},
   "xOffset": {"field": "cond", "type": "nominal", "scale": {"domain": ["Improv", "Formulaic"], "paddingInner": 0, "paddingOuter": 1.11}},
   "y": {"field": "value", "type": "quantitative", "scale": {"domain": [-14, 10], "nice": false}},
   "stroke": {"field": "group", "type": "nominal", "scale": {"domain": ["red", "blue"], "range": ["#ff0000", "#0000ff"]}, "legend": null},
   "fill": {"condition": {"test": "datum.cond === 'Improv'", "value": "#ffffff"}, "field": "group", "type": "nominal", "scale": {"domain": ["red", "blue"], "range": ["#ff0000", "#0000ff"]}, "legend": null}
  }},
 {"data": {"name": "ebars"}, "transform": [{"filter": "datum.region === 'BA45R'"}], "mark": {"type": "rule", "color": "#7f7f7f", "strokeWidth": 1},
  "encoding": {
   "x": {"field": "group", "type": "nominal", "scale": {"domain": ["red", "blue"], "range": [35, 303], "paddingInner": 0, "paddingOuter": 0}, "axis": null},
   "xOffset": {"field": "cond", "type": "nominal", "scale": {"domain": ["Improv", "Formulaic"], "paddingInner": 0, "paddingOuter": 1.11}},
   "y": {"field": "lo", "type": "quantitative", "scale": {"domain": [-14, 10], "nice": false}},
   "y2": {"field": "hi"}
  }},
 {"data": {"name": "ebars"}, "transform": [{"filter": "datum.region === 'BA45R'"}], "mark": {"type": "tick", "color": "#7f7f7f", "size": 7, "thickness": 1},
  "encoding": {
   "x": {"field": "group", "type": "nominal", "scale": {"domain": ["red", "blue"], "range": [35, 303], "paddingInner": 0, "paddingOuter": 0}, "axis": null},
   "xOffset": {"field": "cond", "type": "nominal", "scale": {"domain": ["Improv", "Formulaic"], "paddingInner": 0, "paddingOuter": 1.11}},
   "y": {"field": "lo", "type": "quantitative", "scale": {"domain": [-14, 10], "nice": false}}
  }},
 {"data": {"name": "ebars"}, "transform": [{"filter": "datum.region === 'BA45R'"}], "mark": {"type": "tick", "color": "#7f7f7f", "size": 7, "thickness": 1},
  "encoding": {
   "x": {"field": "group", "type": "nominal", "scale": {"domain": ["red", "blue"], "range": [35, 303], "paddingInner": 0, "paddingOuter": 0}, "axis": null},
   "xOffset": {"field": "cond", "type": "nominal", "scale": {"domain": ["Improv", "Formulaic"], "paddingInner": 0, "paddingOuter": 1.11}},
   "y": {"field": "hi", "type": "quantitative", "scale": {"domain": [-14, 10], "nice": false}}
  }},
 {"data": {"name": "esig"}, "transform": [{"filter": "datum.region === 'BA45R'"}], "mark": {"type": "tick", "color": "#000000", "size": 32, "thickness": 2.5},
  "encoding": {
   "x": {"field": "group", "type": "nominal", "scale": {"domain": ["red", "blue"], "range": [35, 303], "paddingInner": 0, "paddingOuter": 0}, "axis": null},
   "y": {"field": "sig", "type": "quantitative", "scale": {"domain": [-14, 10], "nice": false}}
  }},
 {"data": {"name": "esig"}, "transform": [{"filter": "datum.region === 'BA45R'"}], "mark": {"type": "text", "text": "*", "fontSize": 22, "font": "Liberation Sans", "baseline": "alphabetic", "dy": 1, "color": "#000000"},
  "encoding": {
   "x": {"field": "group", "type": "nominal", "scale": {"domain": ["red", "blue"], "range": [35, 303], "paddingInner": 0, "paddingOuter": 0}, "axis": null},
   "y": {"field": "sig", "type": "quantitative", "scale": {"domain": [-14, 10], "nice": false}}
  }},
 {"data": {"name": "esig"}, "transform": [{"filter": "datum.region === 'BA45R' && datum.group === 'red'"}], "mark": {"type": "text", "fontSize": 18, "font": "Liberation Sans", "baseline": "middle", "align": "center", "color": "#000000"},
  "encoding": {
   "x": {"datum": "blue", "type": "nominal", "bandPosition": 0, "scale": {"domain": ["red", "blue"], "range": [35, 303], "paddingInner": 0, "paddingOuter": 0}, "axis": null},
   "y": {"datum": 13.1, "type": "quantitative", "scale": {"domain": [-14, 10], "nice": false}},
   "text": {"field": "region"}
  }}
 ]}
]
}
